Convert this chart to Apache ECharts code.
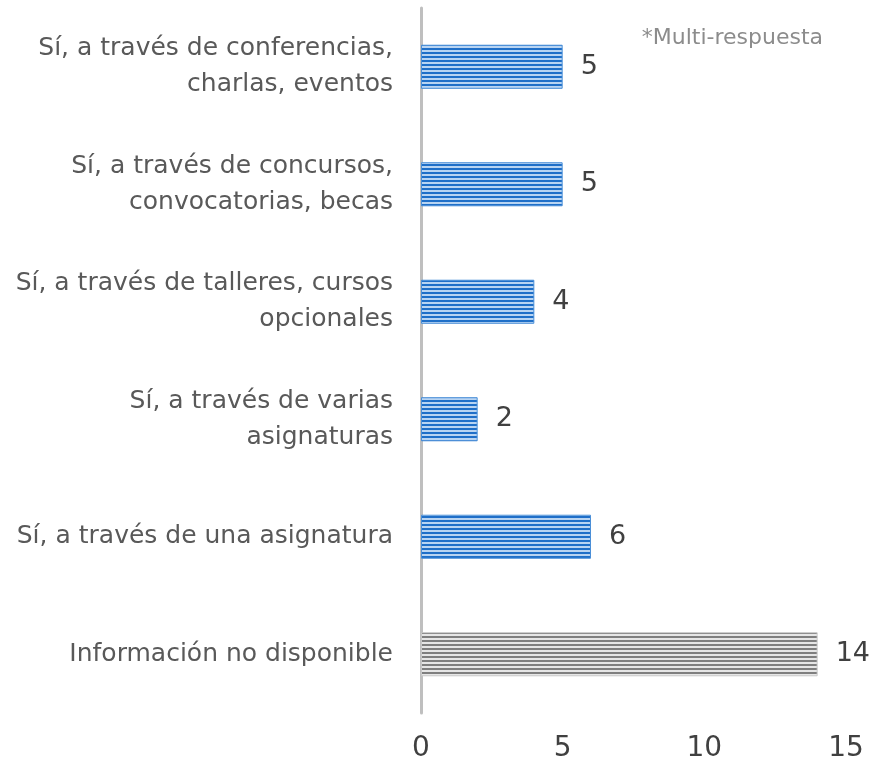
<!DOCTYPE html>
<html>
<head>
<meta charset="utf-8">
<script src="https://cdn.jsdelivr.net/npm/echarts@6/dist/echarts.min.js"></script>
<style>
  html, body { margin: 0; padding: 0; background: #fff; }
  #chart { width: 869px; height: 764px; }
</style>
</head>
<body>
<div id="chart"></div>
<script>
// categories bottom -> top
const categories = [
  'Información no disponible',
  'Sí, a través de una asignatura',
  'Sí, a través de varias\nasignaturas',
  'Sí, a través de talleres, cursos\nopcionales',
  'Sí, a través de concursos,\nconvocatorias, becas',
  'Sí, a través de conferencias,\ncharlas, eventos'
]
const values = [14, 6, 2, 4, 5, 5]
const xTicks = [0, 5, 10, 15]
const note = '*Multi-respuesta'

function stripes (dark, light) {
  const c = document.createElement('canvas')
  c.width = 4
  c.height = 4
  const ctx = c.getContext('2d')
  ctx.fillStyle = light
  ctx.fillRect(0, 0, 4, 4)
  ctx.fillStyle = dark
  ctx.fillRect(0, 0, 4, 2)
  return c
}

const bluePattern = { image: stripes('#1f6fc8', '#b8d4f2'), repeat: 'repeat' }
const grayPattern = { image: stripes('#7f7f7f', '#e6e6e6'), repeat: 'repeat' }

const font = '"DejaVu Sans", sans-serif'
const myChart = echarts.init(document.getElementById('chart'))

const option = {
  animation: false,
  textStyle: { fontFamily: font },
  grid: { left: 421, right: 23, top: 8, bottom: 51, containLabel: false },
  graphic: [{
    type: 'text',
    right: 46,
    top: 27,
    style: { text: note, fill: '#8c8c8c', font: '22px ' + font }
  }],
  xAxis: {
    type: 'value',
    min: xTicks[0],
    max: xTicks[xTicks.length - 1],
    interval: 5,
    splitLine: { show: false },
    axisLine: { show: false },
    axisTick: { show: false },
    axisLabel: { color: '#404040', fontSize: 28, margin: 22 }
  },
  yAxis: {
    type: 'category',
    data: categories,
    axisLine: { lineStyle: { color: '#bfbfbf', width: 3 } },
    axisTick: { show: false },
    axisLabel: {
      color: '#595959',
      fontSize: 25,
      lineHeight: 36,
      margin: 28,
      align: 'right'
    }
  },
  series: [{
    type: 'bar',
    data: values.map(function (v, i) {
      return {
        value: v,
        itemStyle: i === 0
          ? { color: grayPattern, borderColor: '#c8c8c8', borderWidth: 1 }
          : { color: bluePattern, borderColor: '#4a8fd8', borderWidth: 1 }
      }
    }),
    barWidth: '37.5%',
    label: {
      show: true,
      position: 'right',
      distance: 18,
      color: '#404040',
      fontSize: 27
    }
  }]
}
myChart.setOption(option)
</script>
</body>
</html>
